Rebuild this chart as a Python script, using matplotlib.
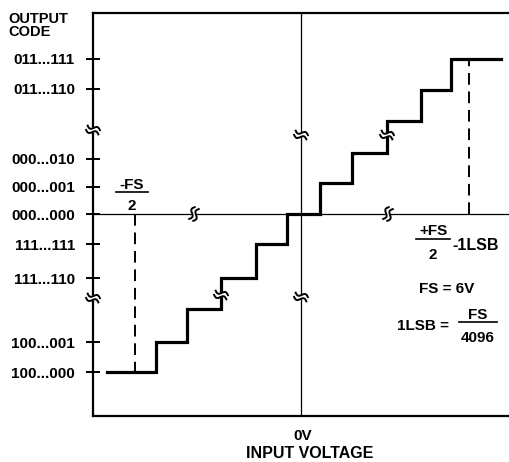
import numpy as np
import matplotlib.pyplot as plt

plt.rcParams['font.family'] = ['Liberation Sans', 'DejaVu Sans']
plt.rcParams['font.weight'] = 'bold'

# diagram units: 1 unit ~ 1 px, origin at (0V, code 000...000)
code_labels = ['011...111', '011...110', '000...010', '000...001', '000...000',
               '111...111', '111...110', '100...001', '100...000']
code_pos = [155, 125, 55, 27, 0, -30, -64, -128, -158]

# staircase: transition voltages and output levels
step_x = [-194, -145, -114, -80, -45, -14, 19, 51, 86, 120, 150, 200]
step_y = [-158, -128, -95, -64, -30, 0, 31, 61, 93, 124, 155]

neg_fs_half = -166
pos_fs_half = 168

# axis-break marks (x, y)
breaks_v = [(-208, 84), (-208, -84), (0, 79), (0, -83), (86, 79), (-80, -81)]
breaks_h = [(-107, 0), (87, 0)]

fig = plt.figure(figsize=(5.09, 4.62), dpi=100)
ax = fig.add_axes([93/509, 46/462, 416/509, 403/462])
ax.set_xlim(-208, 208)
ax.set_ylim(-202, 201)

for s in ['left', 'top', 'bottom']:
    ax.spines[s].set_linewidth(1.6)
ax.spines['right'].set_visible(False)

ax.set_xticks([])
ax.set_yticks(code_pos)
ax.set_yticklabels(code_labels, fontsize=11, fontweight='bold')
ax.tick_params(axis='y', direction='inout', length=10, width=1.4, pad=8)

# zero lines
ax.axhline(0, color='black', lw=0.9, zorder=2)
ax.axvline(0, color='black', lw=0.9, zorder=2)

# staircase
xs, ys = [], []
for i, lev in enumerate(step_y):
    xs += [step_x[i], step_x[i + 1]]
    ys += [lev, lev]
ax.plot(xs, ys, color='black', lw=2.3, solid_joinstyle='miter', zorder=3)

# dashed full-scale markers
ax.plot([neg_fs_half, neg_fs_half], [0, step_y[0]], color='black', lw=1.4,
        dashes=(6, 3.5), zorder=2)
ax.plot([pos_fs_half, pos_fs_half], [0, step_y[-1]], color='black', lw=1.4,
        dashes=(6, 3.5), zorder=2)


def break_mark(x, y, angle, gap=4.5, half=6.5, amp=2.0):
    t = np.linspace(-1, 1, 40)
    d = np.array([np.cos(angle), np.sin(angle)])
    n = np.array([-d[1], d[0]])
    u = t * half
    w = amp * np.sin(np.pi * t)
    curves = []
    for off in (-gap / 2, gap / 2):
        px = x + u * d[0] + (w + off) * n[0]
        py = y + u * d[1] + (w + off) * n[1]
        curves.append((px, py))
    poly_x = np.concatenate([curves[0][0], curves[1][0][::-1]])
    poly_y = np.concatenate([curves[0][1], curves[1][1][::-1]])
    ax.fill(poly_x, poly_y, color='white', zorder=4, clip_on=False)
    for px, py in curves:
        ax.plot(px, py, color='black', lw=1.4, zorder=5, clip_on=False)


for bx, by in breaks_v:
    break_mark(bx, by, np.deg2rad(-20))
for bx, by in breaks_h:
    break_mark(bx, by, np.deg2rad(65))

# annotations
fs = 11
kw = dict(fontsize=fs, fontweight='bold', ha='center', va='center')
ax.text(-169, 29, '-FS', **kw)
ax.plot([-185, -153], [22, 22], color='black', lw=1.2)
ax.text(-169, 8, '2', **kw)

ax.text(132, -17, '+FS', **kw)
ax.plot([115, 149], [-25, -25], color='black', lw=1.2)
ax.text(132, -41, '2', **kw)
ax.text(151, -31, '-1LSB', fontsize=11.5, fontweight='bold', ha='left', va='center')

ax.text(146, -75, 'FS = 6V', **kw)

ax.text(122, -112, '1LSB =', **kw)
ax.text(177, -101, 'FS', **kw)
ax.plot([158, 196], [-108, -108], color='black', lw=1.2)
ax.text(177, -124, '4096', **kw)

ax.text(2, -222, '0V', clip_on=False, **kw)
ax.text(9, -240, 'INPUT VOLTAGE', clip_on=False, fontsize=11.5,
        fontweight='bold', ha='center', va='center')

fig.text(8/509, 1 - 12/462, 'OUTPUT\nCODE', fontsize=10.5, fontweight='bold',
         ha='left', va='top', linespacing=0.95)

fig.savefig('out.png', dpi=100)
